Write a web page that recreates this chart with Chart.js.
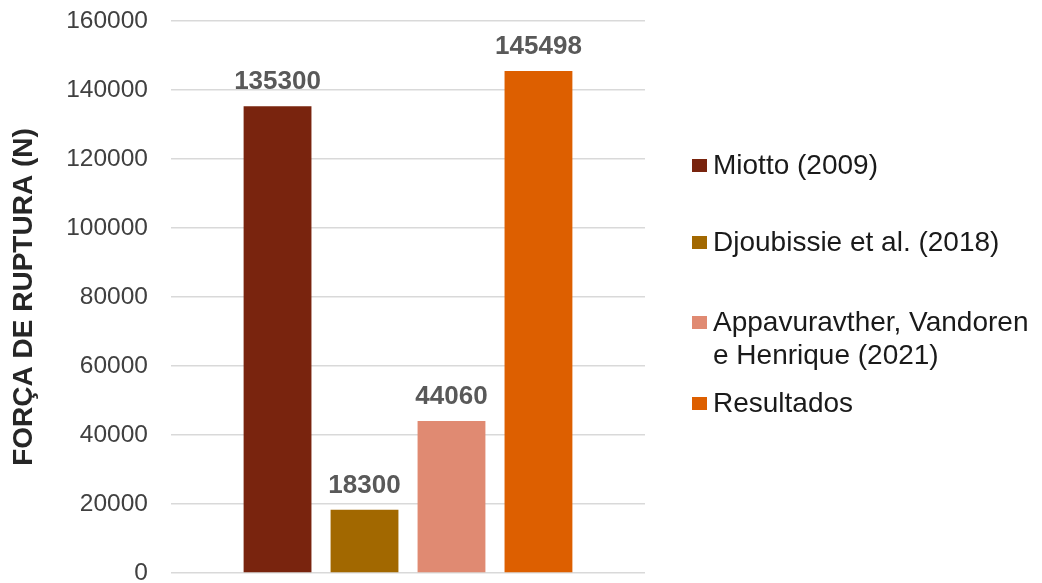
<!DOCTYPE html>
<html>
<head>
<meta charset="utf-8">
<script src="https://cdn.jsdelivr.net/npm/chart.js@4.4.0/dist/chart.umd.min.js"></script>
<style>
  html, body { margin: 0; padding: 0; background: #fff; }
  #wrap { width: 1042px; height: 583px; }
</style>
</head>
<body>
<div id="wrap"><canvas id="forca-canvas"></canvas></div>
<script>
const series = ['Miotto (2009)', 'Djoubissie et al. (2018)', 'Appavuravther, Vandoren e Henrique (2021)', 'Resultados']
// legend text split into lines
const legendLines = [['Miotto (2009)'], ['Djoubissie et al. (2018)'], ['Appavuravther, Vandoren', 'e Henrique (2021)'], ['Resultados']]
const values = [135300, 18300, 44060, 145498]
const colors = ['#79240e', '#a26800', '#e08a72', '#dd5f00']
const yTicks = [0, 20000, 40000, 60000, 80000, 100000, 120000, 140000, 160000]

const FONT = "'Liberation Sans', Arial, sans-serif"

// value labels above each bar
const barLabels = {
	id: 'barLabels',
	afterDatasetsDraw(chart) {
		const ctx = chart.ctx
		ctx.save()
		ctx.font = 'bold 26px ' + FONT
		ctx.fillStyle = '#595959'
		ctx.textAlign = 'center'
		ctx.textBaseline = 'alphabetic'
		chart.data.datasets.forEach((ds, i) => {
			const bar = chart.getDatasetMeta(i).data[0]
			ctx.fillText(String(ds.data[0]), bar.x, bar.y - 17)
		})
		ctx.restore()
	}
}

// legend on the right, with wrapped entries
const sideLegend = {
	id: 'sideLegend',
	afterDraw(chart) {
		const ctx = chart.ctx
		const rows = [165, 242, 322, 403]
		const boxX = 692, textX = 713, lineH = 33
		ctx.save()
		ctx.font = '28px ' + FONT
		ctx.textBaseline = 'middle'
		ctx.textAlign = 'left'
		legendLines.forEach((lines, i) => {
			ctx.fillStyle = colors[i]
			ctx.fillRect(boxX, rows[i] - 6, 15, 13)
			ctx.fillStyle = '#1a1a1a'
			lines.forEach((t, k) => ctx.fillText(t, textX, rows[i] + 1 + k * lineH))
		})
		ctx.restore()
	}
}

const context = document.getElementById('forca-canvas').getContext('2d')

const myChart = new Chart(context, {
	type: 'bar',
	data: {
		labels: [''],
		datasets: series.map((name, i) => ({
			label: name,
			data: [values[i]],
			backgroundColor: colors[i],
			categoryPercentage: 0.734,
			barPercentage: 0.78
		}))
	},
	options: {
		responsive: true,
		maintainAspectRatio: false,
		animation: false,
		layout: { padding: { top: 21, right: 397, bottom: 10, left: 0 } },
		plugins: {
			legend: { display: false },
			tooltip: { enabled: false }
		},
		scales: {
			x: { display: false },
			y: {
				min: 0,
				max: 160000,
				afterBuildTicks(scale) {
					scale.ticks = yTicks.map(v => ({ value: v }))
				},
				afterFit(scale) {
					scale.width = 171
					scale.paddingTop = 0
					scale.paddingBottom = 0
				},
				border: { display: false },
				grid: { color: '#d9d9d9', lineWidth: 1.5, drawTicks: false },
				ticks: {
					padding: 23,
					color: '#404040',
					font: { family: FONT, size: 24.5 },
					callback: v => String(v)
				},
				title: {
					display: true,
					text: 'FORÇA DE RUPTURA (N)',
					color: '#262626',
					font: { family: FONT, size: 28, weight: 'bold' },
					padding: { top: 7, bottom: 0 }
				}
			}
		}
	},
	plugins: [barLabels, sideLegend]
})
</script>
</body>
</html>
